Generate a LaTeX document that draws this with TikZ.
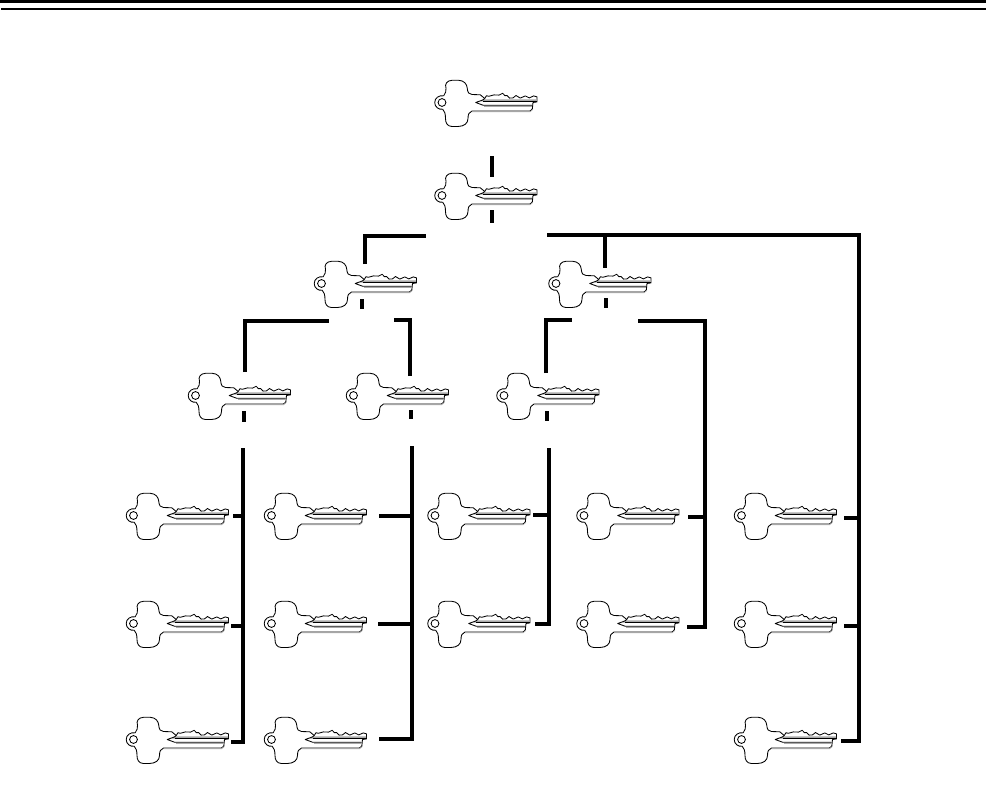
\documentclass[tikz,border=0pt]{standalone}
\usepackage{tikz}
\definecolor{KeyGrey}{HTML}{A8A8A8}

\begin{document}
\begin{tikzpicture}[
    x=1pt, y=-1pt,
    % Connector Styles
    wire/.style={black, line width=4pt},
    rule/.style={black, line width=1.5pt},
    % Key Styles
    keyline/.style={black, line width=0.85pt, line join=round},
    keyicon/.pic={
        % outline of head and blade
        \draw[keyline, fill=white]
            (1.7,-6.7) .. controls (3.6,-9) and (4.3,-12) .. (4,-14.3)
            .. controls (2.5,-18.5) and (5,-22) .. (10,-22.2)
            -- (16.7,-22.2) .. controls (22,-22) and (25,-18.5) .. (25.3,-14)
            .. controls (25.6,-10) and (27,-8) .. (30,-8)
            -- (38.3,-7.7) -- (42.7,-4) -- (44.5,-6.8) -- (46.7,-6.2) -- (52,-7.6) -- (57,-7.4)
            -- (60.7,-9.2) -- (63,-6.8) -- (65,-7) -- (67.5,-4.4) -- (71,-4.6) -- (74,-7)
            -- (78.3,-4.4) -- (83.3,-6.6) -- (87.3,-4.6) -- (91.7,-6.6) -- (95,-5.6)
            -- (95,-0.6) -- (91,0) -- (90.3,6.5) -- (88,8.5) -- (30,8.5)
            .. controls (27,9.2) and (26,12) .. (26,16)
            .. controls (26,21) and (22,23.8) .. (16,24)
            -- (10,24) .. controls (5,23.8) and (3.5,20) .. (3.5,16)
            .. controls (3.5,11) and (2.5,8.5) .. (0.7,6.7)
            .. controls (-3,7.5) and (-7.3,4.5) .. (-7.3,0)
            .. controls (-7.3,-4.5) and (-3,-7.5) .. (1.7,-6.7) -- cycle;
        % grooves of the blade
        \fill[KeyGrey] (41,-3.2) -- (94.6,-3.2) -- (94.6,-1) -- (38,-1) -- cycle;
        \draw[KeyGrey, line width=0.9pt] (42,3.9) -- (89.7,3.9);
        \draw[KeyGrey, line width=0.7pt] (30,9.3) -- (88,9.3) -- (90.8,7);
        \draw[keyline] (42.7,-4) -- (41,-2.6) -- (33.7,0) -- (41,2.7) -- (90,2.7);
        \draw[keyline] (41,-0.8) -- (95,-0.8);
        % hole
        \draw[keyline, fill=white] (0,0) circle (3.9pt);
    }
]

    \path[use as bounding box, fill=white] (0,0) rectangle (986,792);

    % ==========================================
    % TOP RULES
    % ==========================================
    \coordinate (RuleThickL) at (0,1.5);
    \coordinate (RuleThickR) at (986,1.5);
    \coordinate (RuleThinL) at (1,9.2);
    \coordinate (RuleThinR) at (986,9.2);

    \draw[black, line width=3pt] (RuleThickL) -- (RuleThickR);
    \draw[rule] (RuleThinL) -- (RuleThinR);

    % ==========================================
    % KEYS
    % ==========================================
    % Level 1 and 2
    \coordinate (KeyTop) at (442,102.5);
    \coordinate (KeyMaster) at (442,195.5);
    % Level 3
    \coordinate (KeyA) at (321.5,283.5);
    \coordinate (KeyB) at (556,283.5);
    % Level 4
    \coordinate (KeyAA) at (195.5,395.5);
    \coordinate (KeyAB) at (353.5,395.5);
    \coordinate (KeyBA) at (504,395.5);
    % Level 5: first row
    \coordinate (KeyP) at (133.5,515.5);
    \coordinate (KeyQ) at (271.5,515.5);
    \coordinate (KeyR) at (435,515.5);
    \coordinate (KeyS) at (584,515.5);
    \coordinate (KeyT) at (741.5,515.5);
    % Level 5: second row
    \coordinate (KeyP2) at (133.5,623.5);
    \coordinate (KeyQ2) at (271.5,623.5);
    \coordinate (KeyR2) at (435,623.5);
    \coordinate (KeyS2) at (584,623.5);
    \coordinate (KeyT2) at (741.5,623.5);
    % Level 5: third row
    \coordinate (KeyP3) at (133.5,739.5);
    \coordinate (KeyQ3) at (271.5,739.5);
    \coordinate (KeyT3) at (741.5,739.5);

    \pic at (KeyTop) {keyicon};
    \pic at (KeyMaster) {keyicon};
    \pic at (KeyA) {keyicon};
    \pic at (KeyB) {keyicon};
    \pic at (KeyAA) {keyicon};
    \pic at (KeyAB) {keyicon};
    \pic at (KeyBA) {keyicon};
    \pic at (KeyP) {keyicon};
    \pic at (KeyQ) {keyicon};
    \pic at (KeyR) {keyicon};
    \pic at (KeyS) {keyicon};
    \pic at (KeyT) {keyicon};
    \pic at (KeyP2) {keyicon};
    \pic at (KeyQ2) {keyicon};
    \pic at (KeyR2) {keyicon};
    \pic at (KeyS2) {keyicon};
    \pic at (KeyT2) {keyicon};
    \pic at (KeyP3) {keyicon};
    \pic at (KeyQ3) {keyicon};
    \pic at (KeyT3) {keyicon};

    % ==========================================
    % CONNECTORS: Master level
    % ==========================================
    \coordinate (TopA) at (492,156);
    \coordinate (TopB) at (492,177);
    \coordinate (MasterA) at (492,210);
    \coordinate (MasterB) at (492,223);

    \draw[wire] (TopA) -- (TopB);
    \draw[wire] (MasterA) -- (MasterB);

    % Left branch
    \coordinate (LeftDrop) at (365,264);
    \coordinate (LeftEnd) at (426,236);
    \draw[wire] (LeftDrop) |- (LeftEnd);

    % Right branch, with drop to key B
    \coordinate (RightStart) at (547,235);
    \coordinate (RightCorner) at (859,235);
    \coordinate (RightFoot) at (841,741);
    \coordinate (RightTee) at (605,235);
    \coordinate (RightDrop) at (605,268);
    \draw[wire] (RightStart) -| (RightFoot -| RightCorner) -- (RightFoot);
    \draw[wire] (RightTee) -- (RightDrop);

    % Ticks to the far right bar
    \coordinate (TickT) at (844,518);
    \coordinate (TickT2) at (844,625.5);
    \draw[wire] (TickT) -- (TickT -| RightCorner);
    \draw[wire] (TickT2) -- (TickT2 -| RightCorner);

    % ==========================================
    % CONNECTORS: Key A
    % ==========================================
    \coordinate (StubAa) at (361.5,299);
    \coordinate (StubAb) at (361.5,309);
    \draw[wire] (StubAa) -- (StubAb);

    \coordinate (AaDrop) at (245,372);
    \coordinate (AaEnd) at (329,321);
    \draw[wire] (AaDrop) |- (AaEnd);

    \coordinate (AbDrop) at (410,376);
    \coordinate (AbEnd) at (394,320);
    \draw[wire] (AbDrop) |- (AbEnd);

    % ==========================================
    % CONNECTORS: Key AA
    % ==========================================
    \coordinate (StubAAa) at (244,411);
    \coordinate (StubAAb) at (244,422);
    \draw[wire] (StubAAa) -- (StubAAb);

    \coordinate (BarP) at (243,448);
    \coordinate (TickP) at (233,516);
    \coordinate (TickP2) at (231,626);
    \coordinate (TickP3) at (231,742);
    \draw[wire] (BarP) |- (TickP3);
    \draw[wire] (TickP) -- (TickP -| BarP);
    \draw[wire] (TickP2) -- (TickP2 -| BarP);

    % ==========================================
    % CONNECTORS: Key AB
    % ==========================================
    \coordinate (StubABa) at (411,410);
    \coordinate (StubABb) at (411,419);
    \draw[wire] (StubABa) -- (StubABb);

    \coordinate (BarQ) at (412,446);
    \coordinate (TickQ) at (379,516);
    \coordinate (TickQ2) at (378,624);
    \coordinate (TickQ3) at (379,739);
    \draw[wire] (BarQ) |- (TickQ3);
    \draw[wire] (TickQ) -- (TickQ -| BarQ);
    \draw[wire] (TickQ2) -- (TickQ2 -| BarQ);

    % ==========================================
    % CONNECTORS: Key B
    % ==========================================
    \coordinate (StubBa) at (606,298);
    \coordinate (StubBb) at (606,307.5);
    \draw[wire] (StubBa) -- (StubBb);

    \coordinate (BaDrop) at (546,373);
    \coordinate (BaEnd) at (572,320);
    \draw[wire] (BaDrop) |- (BaEnd);

    \coordinate (BbStart) at (638,321);
    \coordinate (BbCorner) at (705,321);
    \coordinate (TickS) at (688,517);
    \coordinate (TickS2) at (687,627);
    \draw[wire] (BbStart) -| (TickS2 -| BbCorner) -- (TickS2);
    \draw[wire] (TickS) -- (TickS -| BbCorner);

    % ==========================================
    % CONNECTORS: Key BA
    % ==========================================
    \coordinate (StubBAa) at (547,411);
    \coordinate (StubBAb) at (547,421);
    \draw[wire] (StubBAa) -- (StubBAb);

    \coordinate (BarR) at (549,448);
    \coordinate (TickR) at (533,515);
    \coordinate (TickR2) at (535,624);
    \draw[wire] (BarR) |- (TickR2);
    \draw[wire] (TickR) -- (TickR -| BarR);

\end{tikzpicture}
\end{document}
